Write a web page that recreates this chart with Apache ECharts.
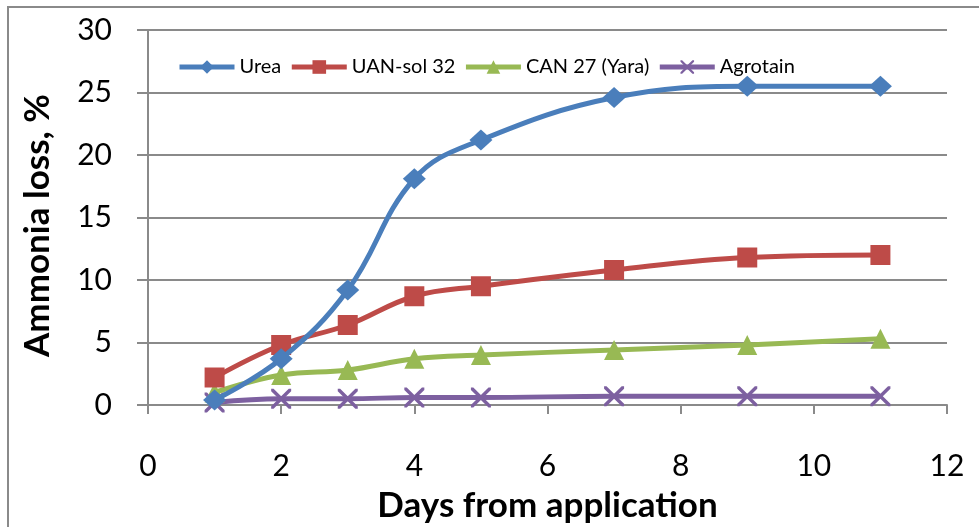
<!DOCTYPE html>
<html><head><meta charset="utf-8">
<script src="https://cdn.jsdelivr.net/npm/echarts@6/dist/echarts.min.js"></script>
<style>html,body{margin:0;padding:0;background:#fff}#c{width:979px;height:527px}</style>
</head><body><div id="c"></div>
<script>
var days = [1, 2, 3, 4, 5, 7, 9, 11];
var urea = [0.4, 3.7, 9.2, 18.1, 21.2, 24.6, 25.5, 25.5];
var uan = [2.2, 4.8, 6.4, 8.7, 9.5, 10.8, 11.8, 12.0];
var can = [1.0, 2.4, 2.8, 3.7, 4.0, 4.4, 4.8, 5.3];
var agrotain = [0.2, 0.5, 0.5, 0.6, 0.6, 0.7, 0.7, 0.7];
var seriesNames = ['Urea', 'UAN-sol 32', 'CAN 27 (Yara)', 'Agrotain'];
var xTicks = [0, 2, 4, 6, 8, 10, 12];
var yTicks = [0, 5, 10, 15, 20, 25, 30];

var FONT = 'Lato, "Open Sans", sans-serif';
var colors = ['#4A7EBB', '#BE4B48', '#98B954', '#7D60A0'];
var crossPath = 'path://M0,0L1.2,0L5,3.8L8.8,0L10,0L10,1.2L6.2,5L10,8.8L10,10L8.8,10L5,6.2L1.2,10L0,10L0,8.8L3.8,5L0,1.2Z';
var symbols = ['diamond', 'rect', 'triangle', crossPath];
var symSizes = [[23, 21], 20, 20, 20];
var values = [urea, uan, can, agrotain];

function pairs(arr) { return days.map(function (d, i) { return [d, arr[i]]; }); }

var chart = echarts.init(document.getElementById('c'), null, { renderer: 'canvas' });
chart.setOption({
  animation: false,
  color: colors,
  textStyle: { fontFamily: FONT },
  grid: { left: 148, right: 32, top: 30, bottom: 122, containLabel: false, outerBoundsMode: 'none' },
  graphic: [{
    type: 'rect', silent: true, z: -1,
    shape: { x: 8, y: 7, width: 1000, height: 600 },
    style: { fill: 'none', stroke: '#8a8a8a', lineWidth: 2 }
  }],
  legend: {
    left: 172, top: 52,
    itemWidth: 55, itemHeight: 17, itemGap: 8,
    lineStyle: { width: 5 },
    textStyle: { fontFamily: FONT, fontSize: 20, color: '#000' },
    data: seriesNames
  },
  xAxis: {
    type: 'value', min: xTicks[0], max: xTicks[xTicks.length - 1], interval: 2,
    name: 'Days from application', nameLocation: 'middle', nameGap: 83,
    nameTextStyle: { fontFamily: FONT, fontSize: 35, fontWeight: 'bold', color: '#000' },
    axisLine: { show: true, lineStyle: { color: '#8a8a8a', width: 2 } },
    axisTick: { show: true, inside: false, length: 9, lineStyle: { color: '#8a8a8a', width: 2 } },
    axisLabel: { fontFamily: FONT, fontSize: 30, color: '#000', margin: 46 },
    splitLine: { show: false }
  },
  yAxis: {
    type: 'value', min: yTicks[0], max: yTicks[yTicks.length - 1], interval: 5,
    name: 'Ammonia loss, %', nameLocation: 'middle', nameGap: 93, nameRotate: 90,
    nameTextStyle: { fontFamily: FONT, fontSize: 35, fontWeight: 'bold', color: '#000', padding: [0, 16, 0, 0] },
    axisLine: { show: true, lineStyle: { color: '#8a8a8a', width: 2 } },
    axisTick: { show: true, inside: false, length: 11, lineStyle: { color: '#8a8a8a', width: 2 } },
    axisLabel: { fontFamily: FONT, fontSize: 30, color: '#000', margin: 36 },
    splitLine: { show: true, lineStyle: { color: '#8a8a8a', width: 2 } }
  },
  series: seriesNames.map(function (n, k) {
    return {
      name: n, type: 'line', data: pairs(values[k]),
      smooth: 0.4, symbol: symbols[k], symbolSize: symSizes[k],
      showAllSymbol: true,
      lineStyle: { width: 5, color: colors[k] },
      itemStyle: { color: colors[k], borderWidth: 0 },
      z: 10 - k
    };
  })
});
</script></body></html>
